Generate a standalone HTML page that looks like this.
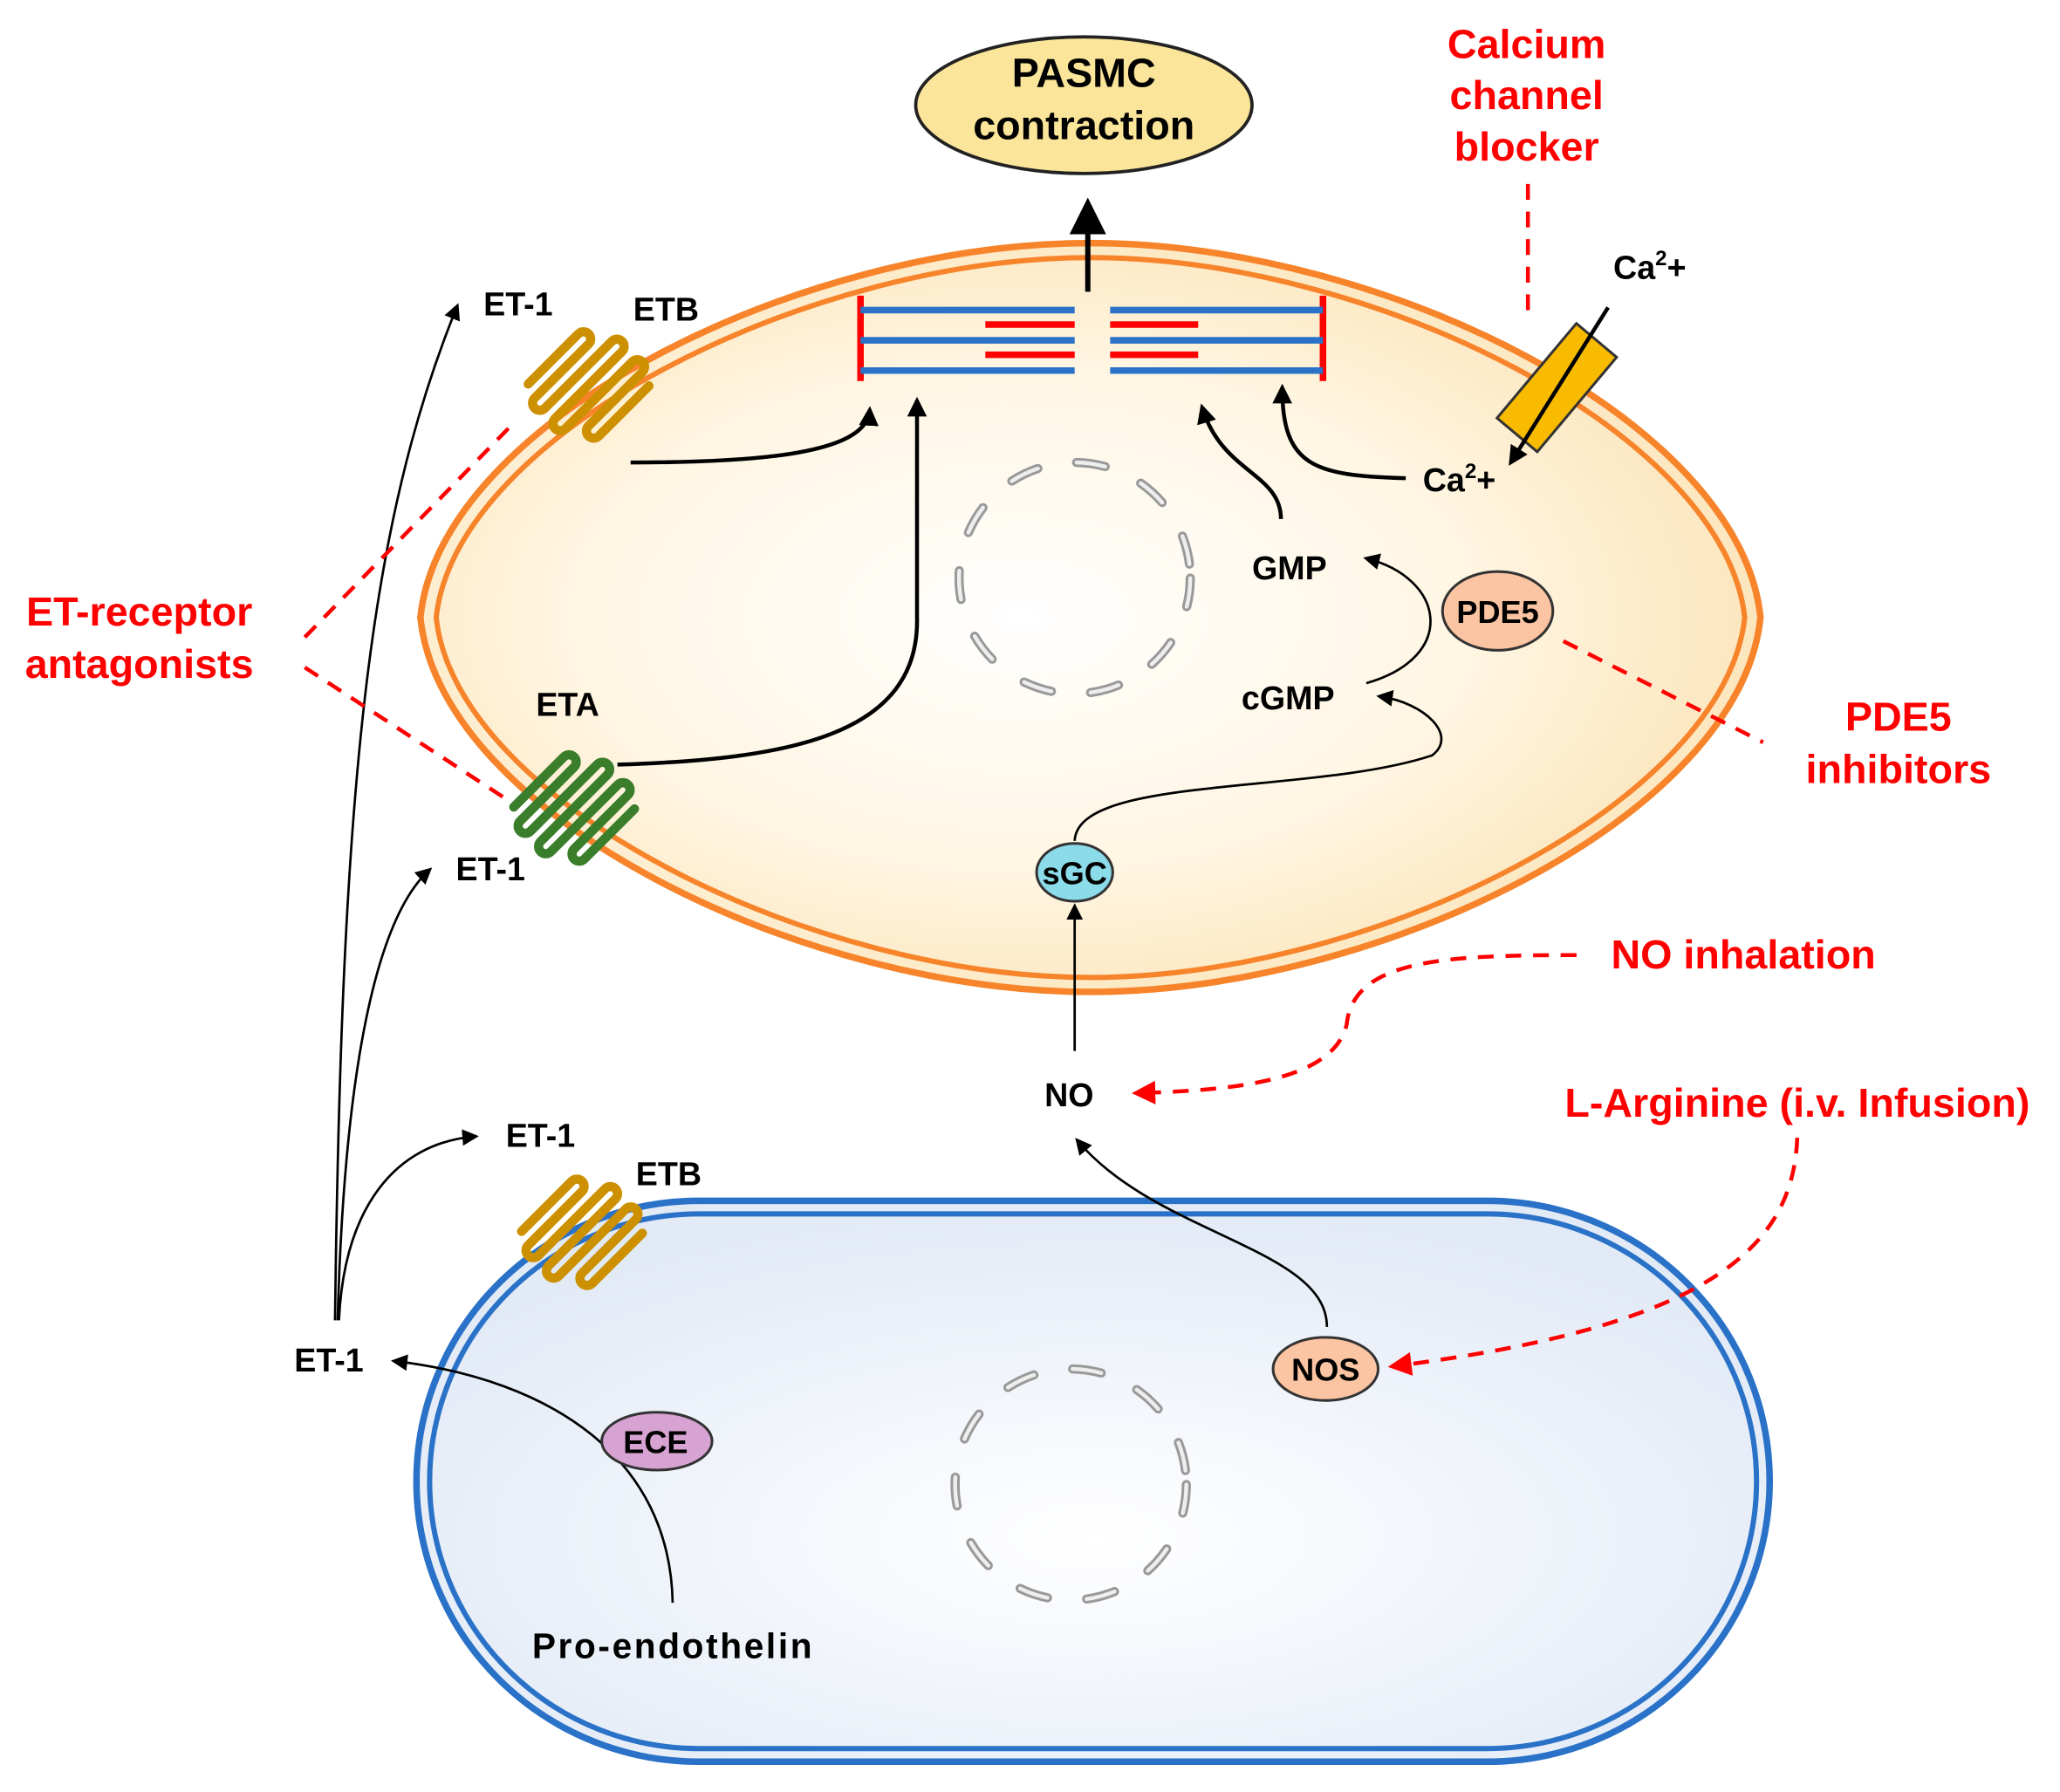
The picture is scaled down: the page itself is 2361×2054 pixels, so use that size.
<!DOCTYPE html>
<html><head><meta charset="utf-8"><style>
html,body{margin:0;padding:0;background:#fff;}
svg{display:block;}
text{font-family:"Liberation Sans",sans-serif;font-weight:bold;}
</style></head><body>
<svg width="2361" height="2054" viewBox="0 0 1568 1364" xmlns="http://www.w3.org/2000/svg">
<defs>
<radialGradient id="gy" cx="0.45" cy="0.5" r="0.6">
<stop offset="0" stop-color="#ffffff"/><stop offset="0.55" stop-color="#fff6e3"/><stop offset="1" stop-color="#fbe2b4"/></radialGradient>
<radialGradient id="gb" cx="0.5" cy="0.6" r="0.6">
<stop offset="0" stop-color="#ffffff"/><stop offset="1" stop-color="#e2eaf6"/></radialGradient>
<marker id="ah" viewBox="0 0 10 10" refX="8" refY="5" markerWidth="7" markerHeight="7" orient="auto"><path d="M0,0 L10,5 L0,10 z" fill="#000"/></marker>
<marker id="ahb" viewBox="0 0 10 10" refX="8" refY="5" markerWidth="5" markerHeight="5" orient="auto"><path d="M0,0 L10,5 L0,10 z" fill="#000"/></marker>
<marker id="ahr" viewBox="0 0 10 10" refX="8" refY="5" markerWidth="6" markerHeight="6" orient="auto"><path d="M0,0 L10,5 L0,10 z" fill="#f00"/></marker>
<g id="coil">
<path d="M-33,32 V-22 A5.5,5.5 0 0 1 -22,-22 V36 A5.5,5.5 0 0 0 -11,36 V-36 A5.5,5.5 0 0 1 0,-36 V36 A5.5,5.5 0 0 0 11,36 V-36 A5.5,5.5 0 0 1 22,-36 V22 A5.5,5.5 0 0 0 33,22 V-32" fill="none" stroke-width="7" stroke-linecap="round"/>
</g>
</defs>

<!-- endothelial cell -->
<rect x="317" y="914" width="1030" height="427" rx="215" fill="url(#gb)" stroke="#2a72c8" stroke-width="5"/>
<rect x="327" y="924" width="1010" height="407" rx="205" fill="none" stroke="#2a72c8" stroke-width="4"/>

<!-- smooth muscle cell -->
<path d="M320,470 C335,320 610,185 830,185 C1050,185 1325,320 1340,470 C1325,620 1050,755 830,755 C610,755 335,620 320,470 Z" fill="url(#gy)" stroke="#f7842a" stroke-width="5"/>
<path d="M332,470 C347,330 615,196 830,196 C1045,196 1313,330 1328,470 C1313,610 1045,744 830,744 C615,744 347,610 332,470 Z" fill="none" stroke="#f7842a" stroke-width="4"/>

<!-- nuclei -->
<circle cx="818" cy="440" r="88" fill="none" stroke="#999" stroke-width="7" stroke-dasharray="22 30" stroke-linecap="round"/>
<circle cx="818" cy="440" r="88" fill="none" stroke="#eee" stroke-width="3" stroke-dasharray="22 30" stroke-linecap="round"/>
<circle cx="815" cy="1130" r="88" fill="none" stroke="#999" stroke-width="7" stroke-dasharray="22 30" stroke-linecap="round"/>
<circle cx="815" cy="1130" r="88" fill="none" stroke="#eee" stroke-width="3" stroke-dasharray="22 30" stroke-linecap="round"/>

<!-- PASMC -->
<ellipse cx="825" cy="80" rx="128" ry="52" fill="#fbe59a" stroke="#222" stroke-width="2.5"/>
<text x="825" y="66" font-size="31" text-anchor="middle">PASMC</text>
<text x="825" y="106" font-size="31" text-anchor="middle">contraction</text>
<line x1="828" y1="222" x2="828" y2="156" stroke="#000" stroke-width="4" marker-end="url(#ah)"/>

<!-- filaments -->
<g stroke-width="5">
<line x1="655" y1="225" x2="655" y2="290" stroke="#f00"/>
<line x1="1007" y1="225" x2="1007" y2="290" stroke="#f00"/>
<line x1="655" y1="236" x2="818" y2="236" stroke="#2a72c8"/>
<line x1="655" y1="259" x2="818" y2="259" stroke="#2a72c8"/>
<line x1="655" y1="282" x2="818" y2="282" stroke="#2a72c8"/>
<line x1="845" y1="236" x2="1007" y2="236" stroke="#2a72c8"/>
<line x1="845" y1="259" x2="1007" y2="259" stroke="#2a72c8"/>
<line x1="845" y1="282" x2="1007" y2="282" stroke="#2a72c8"/>
<line x1="750" y1="247" x2="818" y2="247" stroke="#f00"/>
<line x1="845" y1="247" x2="912" y2="247" stroke="#f00"/>
<line x1="750" y1="270" x2="818" y2="270" stroke="#f00"/>
<line x1="845" y1="270" x2="912" y2="270" stroke="#f00"/>
</g>

<!-- receptors -->
<g transform="translate(448,293) rotate(45)" stroke="#cc9000"><use href="#coil"/></g>
<g transform="translate(437,615) rotate(45)" stroke="#3a7d2a"><use href="#coil"/></g>
<g transform="translate(443,938) rotate(45)" stroke="#cc9000"><use href="#coil"/></g>

<!-- Ca channel -->
<rect x="-20" y="-47" width="40" height="94" fill="#f8bb00" stroke="#333" stroke-width="2" transform="translate(1185,295) rotate(40)"/>
<line x1="1224" y1="234" x2="1150" y2="352" stroke="#000" stroke-width="3" marker-end="url(#ahb)"/>

<!-- black arrows -->
<g fill="none" stroke="#000" stroke-width="3">
<path d="M480,352 C580,352 660,345 662,312" marker-end="url(#ahb)"/>
<path d="M470,582 C600,578 700,560 698,470 L698,305" marker-end="url(#ahb)"/>
<path d="M975,395 C975,360 930,360 915,310" marker-end="url(#ahb)"/>
<path d="M1070,364 C1000,362 976,355 976,295" marker-end="url(#ahb)"/>
</g>
<g fill="none" stroke="#000" stroke-width="1.8">
<path d="M1040,520 C1110,500 1100,440 1040,425" marker-end="url(#ah)"/>
<path d="M818,640 C820,590 1000,605 1090,575 C1110,560 1085,535 1050,530" marker-end="url(#ah)"/>
<path d="M818,800 L818,690" marker-end="url(#ah)"/>
<path d="M1010,1010 C1010,950 880,940 820,868" marker-end="url(#ah)"/>
<path d="M512,1220 C510,1110 420,1050 300,1036" marker-end="url(#ah)"/>
<path d="M255,1005 C260,600 280,400 348,233" marker-end="url(#ah)"/>
<path d="M257,1005 C262,820 285,700 327,662" marker-end="url(#ah)"/>
<path d="M258,1005 C262,920 300,870 362,865" marker-end="url(#ah)"/>
</g>

<!-- red dashed -->
<g fill="none" stroke="#f00" stroke-width="3" stroke-dasharray="12 9">
<path d="M1163,140 L1163,245"/>
<path d="M232,485 L388,325"/>
<path d="M232,508 L385,608"/>
<path d="M1190,488 L1342,565"/>
<path d="M1200,727 C1100,727 1030,730 1025,780 C1015,820 950,830 865,832" marker-end="url(#ahr)"/>
<path d="M1368,866 C1365,950 1300,1010 1060,1040" marker-end="url(#ahr)"/>
</g>

<!-- small nodes -->
<ellipse cx="1140" cy="465" rx="42" ry="30" fill="#fbc4a2" stroke="#333" stroke-width="2"/>
<text x="1140" y="474" font-size="24" text-anchor="middle">PDE5</text>
<ellipse cx="818" cy="664" rx="29" ry="22" fill="#8cdbe8" stroke="#333" stroke-width="2"/>
<text x="818" y="673" font-size="24" text-anchor="middle">sGC</text>
<ellipse cx="1009" cy="1042" rx="40" ry="24" fill="#fbc4a2" stroke="#333" stroke-width="2"/>
<text x="1009" y="1051" font-size="24" text-anchor="middle">NOS</text>
<ellipse cx="500" cy="1097" rx="42" ry="22" fill="#d6a3d2" stroke="#333" stroke-width="2"/>
<text x="499" y="1106" font-size="24" text-anchor="middle">ECE</text>

<!-- black labels -->
<g font-size="25" fill="#000">
<text x="368" y="240">ET-1</text>
<text x="482" y="244">ETB</text>
<text x="408" y="545">ETA</text>
<text x="347" y="670">ET-1</text>
<text x="385" y="873">ET-1</text>
<text x="484" y="902">ETB</text>
<text x="224" y="1044">ET-1</text>
<text x="405" y="1262" font-size="27" textLength="213">Pro-endothelin</text>
<text x="953" y="441">GMP</text>
<text x="945" y="540">cGMP</text>
<text x="795" y="842">NO</text>
<text x="1228" y="212">Ca<tspan font-size="16" dy="-10">2</tspan><tspan dy="10">+</tspan></text>
<text x="1083" y="374">Ca<tspan font-size="16" dy="-10">2</tspan><tspan dy="10">+</tspan></text>
</g>
<!-- red labels -->
<g font-size="31" fill="#f00" text-anchor="middle">
<text x="1162" y="44">Calcium</text>
<text x="1162" y="83">channel</text>
<text x="1162" y="122">blocker</text>
<text x="106" y="476">ET-receptor</text>
<text x="106" y="516">antagonists</text>
<text x="1445" y="556">PDE5</text>
<text x="1445" y="596">inhibitors</text>
<text x="1327" y="737">NO inhalation</text>
<text x="1368" y="850">L-Arginine (i.v. Infusion)</text>
</g>
</svg>
</body></html>
